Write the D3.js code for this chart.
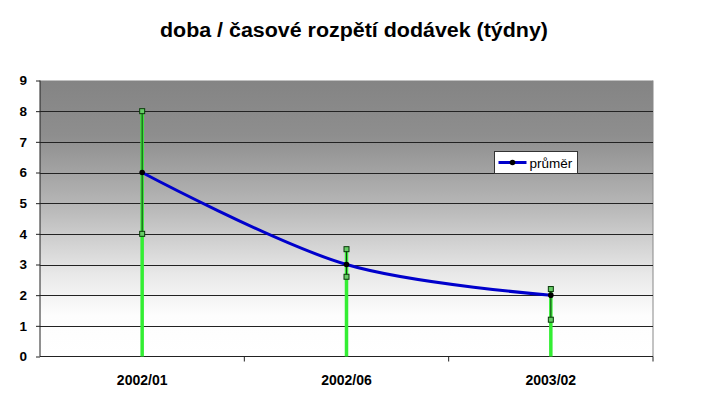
<!DOCTYPE html>
<html>
<head>
<meta charset="utf-8">
<script src="https://cdn.jsdelivr.net/npm/d3@7"></script>
<style>
  body { margin: 0; background: #fff; }
  svg { display: block; font-family: Arial, "Liberation Sans", sans-serif; }
</style>
</head>
<body>
<div id="chart"></div>
<script>
const periods = ['2002/01', '2002/06', '2003/02'];
const highs = [8, 3.5, 2.2];
const lows = [4, 2.6, 1.2];
const means = [6, 3, 2];
const yTicks = [0, 1, 2, 3, 4, 5, 6, 7, 8, 9];

const width = 705;
const height = 398;
const margin = { top: 80.5, right: 52, bottom: 41.5, left: 40 };

const rows = periods.map((p, i) => ({ period: p, high: highs[i], low: lows[i], mean: means[i] }));

const x = d3.scaleBand()
    .domain(periods)
    .range([margin.left, width - margin.right]);

const y = d3.scaleLinear()
    .domain([0, 9])
    .range([height - margin.bottom, margin.top]);

const cx = d => x(d.period) + x.bandwidth() / 2;

const svg = d3.select('#chart')
    .append('svg')
    .attr('width', width)
    .attr('height', height);

// gradient background of the plot area
const grad = svg.append('defs').append('linearGradient')
    .attr('id', 'bg')
    .attr('x1', 0).attr('y1', 0).attr('x2', 0).attr('y2', 1);
grad.append('stop').attr('offset', '0%').attr('stop-color', '#848484');
grad.append('stop').attr('offset', '20%').attr('stop-color', '#8e8e8e');
grad.append('stop').attr('offset', '45%').attr('stop-color', '#b6b6b6');
grad.append('stop').attr('offset', '70%').attr('stop-color', '#e8e8e8');
grad.append('stop').attr('offset', '85%').attr('stop-color', '#fdfdfd');
grad.append('stop').attr('offset', '100%').attr('stop-color', '#ffffff');

svg.append('rect')
    .attr('x', margin.left)
    .attr('y', margin.top)
    .attr('width', width - margin.right - margin.left)
    .attr('height', height - margin.bottom - margin.top)
    .attr('fill', 'url(#bg)');

// right border
svg.append('line')
    .attr('x1', width - margin.right).attr('x2', width - margin.right)
    .attr('y1', margin.top).attr('y2', height - margin.bottom)
    .attr('stroke', '#888');

// gridlines
svg.append('g')
    .selectAll('line')
    .data(yTicks.filter(t => t > 0 && t < 9))
    .join('line')
    .attr('x1', margin.left)
    .attr('x2', width - margin.right)
    .attr('y1', d => Math.round(y(d)) + 0.5)
    .attr('y2', d => Math.round(y(d)) + 0.5)
    .attr('stroke', '#222')
    .attr('stroke-width', 1);

// y axis
const yAxis = svg.append('g')
    .attr('transform', `translate(${margin.left}, 0)`)
    .call(d3.axisLeft(y).tickValues(yTicks).tickSize(4).tickPadding(9));
yAxis.select('.domain').attr('stroke', '#222').attr('d', `M0,${margin.top}V${height - margin.bottom}`);
yAxis.selectAll('.tick line').attr('stroke', '#222');
yAxis.selectAll('text')
    .attr('font-family', 'Arial, "Liberation Sans", sans-serif')
    .attr('font-size', '13.5px')
    .attr('font-weight', 'bold')
    .attr('fill', '#000');

// x axis with ticks at category boundaries
const xAxis = svg.append('g')
    .attr('transform', `translate(0, ${height - margin.bottom})`);
xAxis.append('line')
    .attr('x1', margin.left).attr('x2', width - margin.right)
    .attr('y1', 0).attr('y2', 0)
    .attr('stroke', '#222');
xAxis.selectAll('.bt')
    .data(periods.slice(1).concat(['end']))
    .join('line')
    .attr('class', 'bt')
    .attr('x1', (d, i) => i < 2 ? x(d) : width - margin.right)
    .attr('x2', (d, i) => i < 2 ? x(d) : width - margin.right)
    .attr('y1', 0).attr('y2', 5)
    .attr('stroke', '#222');
xAxis.selectAll('text')
    .data(periods)
    .join('text')
    .attr('x', d => x(d) + x.bandwidth() / 2)
    .attr('y', 28)
    .attr('text-anchor', 'middle')
    .attr('font-size', '14px')
    .attr('font-weight', 'bold')
    .attr('fill', '#000')
    .text(d => d);

// green drop lines from 0 to high
svg.append('g')
    .selectAll('line')
    .data(rows)
    .join('line')
    .attr('x1', cx).attr('x2', cx)
    .attr('y1', y(0))
    .attr('y2', d => y(d.high))
    .attr('stroke', '#33ee33')
    .attr('stroke-width', 3.5);

// hi-lo lines
svg.append('g')
    .selectAll('line')
    .data(rows)
    .join('line')
    .attr('x1', cx).attr('x2', cx)
    .attr('y1', d => y(d.low))
    .attr('y2', d => y(d.high))
    .attr('stroke', '#1a3a1a')
    .attr('stroke-width', 1);

// mean line
const line = d3.line()
    .x(cx)
    .y(d => y(d.mean))
    .curve(d3.curveCatmullRom.alpha(0.5));

svg.append('path')
    .datum(rows)
    .attr('d', line)
    .attr('fill', 'none')
    .attr('stroke', '#0000cc')
    .attr('stroke-width', 3);

// high / low markers
const marks = rows.flatMap(d => [{ period: d.period, v: d.high }, { period: d.period, v: d.low }]);
svg.append('g')
    .selectAll('rect')
    .data(marks)
    .join('rect')
    .attr('x', d => cx(d) - 2.5)
    .attr('y', d => y(d.v) - 2.5)
    .attr('width', 5)
    .attr('height', 5)
    .attr('fill', '#66cc66')
    .attr('stroke', '#0a3a0a')
    .attr('stroke-width', 1);

// mean markers
svg.append('g')
    .selectAll('circle')
    .data(rows)
    .join('circle')
    .attr('cx', cx)
    .attr('cy', d => y(d.mean))
    .attr('r', 2.8)
    .attr('fill', '#000');

// title
svg.append('text')
    .attr('x', 160)
    .attr('y', 37)
    .attr('font-size', '19.5px')
    .attr('font-weight', 'bold')
    .attr('fill', '#000')
    .attr('textLength', 388)
    .attr('lengthAdjust', 'spacingAndGlyphs')
    .text('doba / časové rozpětí dodávek (týdny)');

// legend
const legend = svg.append('g').attr('transform', 'translate(494.5, 151.5)');
legend.append('rect')
    .attr('width', 83)
    .attr('height', 22)
    .attr('fill', '#fff')
    .attr('stroke', '#333');
legend.append('line')
    .attr('x1', 4).attr('x2', 32)
    .attr('y1', 11).attr('y2', 11)
    .attr('stroke', '#0000cc')
    .attr('stroke-width', 3);
legend.append('circle')
    .attr('cx', 18).attr('cy', 11).attr('r', 2.8)
    .attr('fill', '#000');
legend.append('text')
    .attr('x', 35)
    .attr('y', 16)
    .attr('font-size', '13.5px')
    .attr('fill', '#000')
    .text('průměr');
</script>
</body>
</html>
